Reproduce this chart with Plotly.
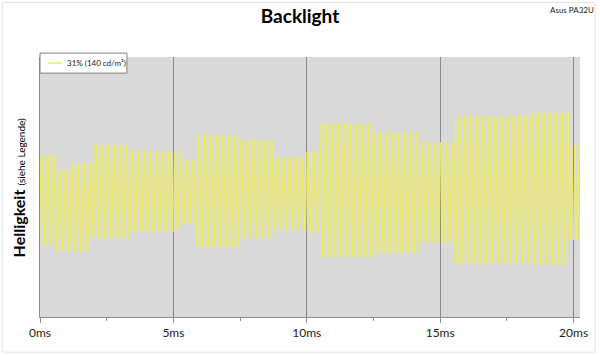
import plotly.graph_objects as go

# ---- data (time in ms, brightness in arbitrary units 0-100) ----
seg_start_ms = [0.00, 0.60, 1.17, 1.92, 3.34, 5.02, 5.32, 5.84, 7.45, 8.75, 9.95, 10.51, 12.49, 14.17, 15.48, 18.46, 19.84]
seg_end_ms   = [0.60, 1.17, 1.92, 3.34, 5.02, 5.32, 5.84, 7.45, 8.75, 9.95, 10.51, 12.49, 14.17, 15.48, 18.46, 19.84, 20.25]
seg_high     = [62.3, 56.5, 59.2, 66.2, 64.2, 63.5, 60.4, 70.0, 68.1, 61.5, 63.5, 74.6, 71.2, 67.3, 77.3, 78.5, 66.2]
seg_low      = [27.3, 25.0, 25.0, 30.4, 32.7, 33.5, 35.8, 26.9, 30.4, 33.5, 32.3, 23.1, 24.6, 28.8, 20.4, 20.0, 29.6]
half_period_ms = 0.056   # PWM half period read from the dense stripes (~3 px per cycle)

tick_vals = [0, 5, 10, 15, 20]
tick_text = ["0ms", "5ms", "10ms", "15ms", "20ms"]
series_name = "31% (140 cd/m²)"

# ---- build the waveform table from the segments ----
t_pts, y_pts = [], []
n = int(seg_end_ms[-1] / half_period_ms)
for k in range(n + 1):
    t = k * half_period_ms
    i = 0
    while i < len(seg_end_ms) - 1 and t >= seg_end_ms[i]:
        i += 1
    t_pts.append(t)
    y_pts.append(seg_high[i] if k % 2 == 0 else seg_low[i])

line_color = "#f0f04c"
fig = go.Figure()
fig.add_trace(go.Scatter(x=t_pts, y=y_pts, mode="lines", name=series_name,
                         line=dict(color=line_color, width=0.8, simplify=False), showlegend=False))

font_fam = "Lato, 'Open Sans', sans-serif"
fig.update_layout(
    width=600, height=355,
    margin=dict(l=40, r=18, t=57, b=38),
    paper_bgcolor="white", plot_bgcolor="#d9d9d9",
    font=dict(family=font_fam, color="#333"),
    showlegend=False,
    title=dict(text="<b>Backlight</b>", x=0.5, xanchor="center", y=0.955, yanchor="middle",
               font=dict(size=19, color="#000", family=font_fam)),
)
fig.update_xaxes(range=[0, 20.24], tickvals=tick_vals, ticktext=tick_text,
                 showgrid=True, gridcolor="#8c8c8c", gridwidth=1,
                 showline=True, linecolor="#8c8c8c", linewidth=1,
                 ticks="outside", ticklen=5, tickcolor="#8c8c8c",
                 minor=dict(dtick=2.5, tick0=0, ticks="outside", ticklen=3, tickcolor="#8c8c8c", showgrid=False),
                 tickfont=dict(size=12, color="#222"), zeroline=False)
fig.update_yaxes(range=[0, 100], showticklabels=False, showgrid=False, zeroline=False,
                 showline=True, linecolor="#8c8c8c", linewidth=1)

# legend box (drawn by hand to match the compact original)
fig.add_shape(type="rect", xref="paper", yref="paper", x0=0.0, x1=0.161, y0=0.938, y1=1.015,
              line=dict(color="#808080", width=1), fillcolor="white", layer="above")
fig.add_shape(type="line", xref="paper", yref="paper", x0=0.015, x1=0.041, y0=0.977, y1=0.977,
              line=dict(color=line_color, width=1.5), layer="above")
fig.add_annotation(text=series_name, xref="paper", yref="paper", x=0.046, y=0.977,
                   xanchor="left", yanchor="middle", showarrow=False,
                   font=dict(size=8, color="#222", family=font_fam))

fig.add_annotation(text="<b>Helligkeit</b> <span style='font-size:10px'>(siehe Legende)</span>",
                   xref="paper", yref="paper", x=-0.04, y=0.5, textangle=-90,
                   showarrow=False, font=dict(size=16, color="#000", family=font_fam),
                   xanchor="center", yanchor="middle")
fig.add_annotation(text="Asus PA32U", xref="paper", yref="paper", x=1.03, y=1.18,
                   xanchor="right", yanchor="middle", showarrow=False,
                   font=dict(size=8, color="#222", family=font_fam))
# faint outer frame
fig.add_shape(type="rect", xref="paper", yref="paper", x0=-0.07, x1=1.028, y0=-0.135, y1=1.21,
              line=dict(color="#e3e3e3", width=1), fillcolor="rgba(0,0,0,0)", layer="below")

fig.write_html("out.html")
